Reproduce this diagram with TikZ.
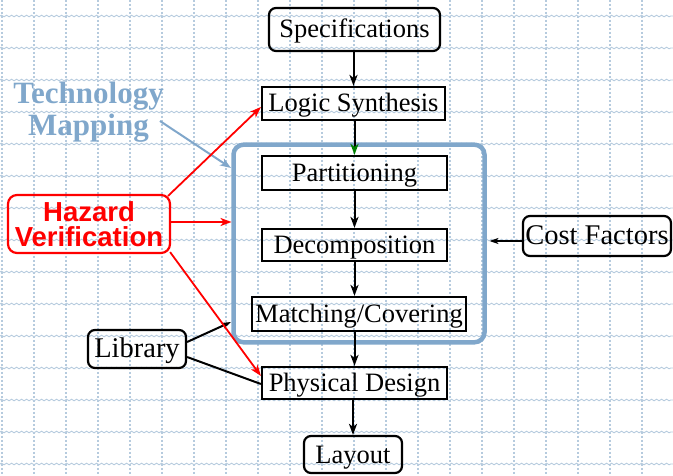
\documentclass[tikz,border=0pt]{standalone}
\usepackage{fontspec}
\setmainfont{Liberation Serif}
\newfontfamily\hzfont{Liberation Sans}
\usetikzlibrary{arrows.meta,decorations.pathmorphing}
\definecolor{gridblue}{RGB}{182,203,222}
\definecolor{tmblue}{RGB}{128,167,203}
\definecolor{hzred}{RGB}{255,0,0}
\definecolor{tipgreen}{RGB}{0,128,0}
\begin{document}
\begin{tikzpicture}[x=1pt,y=-1pt,
  gridv/.style={gridblue, line width=1.1pt, dash pattern=on 2.2pt off 1.8pt},
  gridh/.style={gridblue, line width=0.9pt, decorate,
    decoration={snake, segment length=5pt, amplitude=0.8pt}},
  flowbox/.style={draw, line width=2.2pt, inner sep=0pt, text height=20pt, text depth=3pt,
    font=\fontsize{26.5}{30}\selectfont},
  roundbox/.style={flowbox, rounded corners=7pt},
  sidebox/.style={roundbox, font=\fontsize{28.5}{32}\selectfont},
  hzbox/.style={draw=hzred, text=hzred, line width=2.2pt, rounded corners=9pt, inner sep=0pt,
    align=center, font=\hzfont\bfseries\fontsize{27.5}{25.5}\selectfont},
  tmframe/.style={draw=tmblue, line width=4.5pt, rounded corners=10pt, inner sep=0pt},
  tmtext/.style={text=tmblue, inner sep=0pt, align=center,
    font=\bfseries\fontsize{31}{32}\selectfont},
  tip/.style={-{Stealth[length=11pt,width=8pt,inset=3pt]}},
  smalltip/.style={-{Stealth[length=9pt,width=6pt,inset=2.5pt]}},
  flow/.style={tip, line width=2pt},
  hzline/.style={tip, hzred, line width=1.8pt},
]
\useasboundingbox (0,0) rectangle (673,476);

% background grid: dashed verticals, wavy horizontals
\foreach \i in {0,...,20}
  \draw[gridv] ({2+32*\i},0) -- ({2+32*\i},476);
\foreach \j in {0,...,14}
  \draw[gridh] (0,{16+32*\j}) -- (673,{16+32*\j});

% design flow
\node[roundbox, minimum width=171pt, minimum height=43pt] (spec)   at (354.5,29.5) {Specifications};
\node[flowbox,  minimum width=183pt, minimum height=33pt] (logic)  at (353.5,103.5) {Logic Synthesis};
\node[flowbox,  minimum width=185pt, minimum height=34pt] (part)   at (354.5,173) {Partitioning};
\node[flowbox,  minimum width=185pt, minimum height=32pt] (decomp) at (354.5,245) {Decomposition};
\node[flowbox,  minimum width=214pt, minimum height=34pt] (match)  at (359,314) {Matching/Covering};
\node[flowbox,  minimum width=185pt, minimum height=32pt] (phys)   at (354.5,383) {Physical Design};
\node[roundbox, minimum width=98pt,  minimum height=37pt] (layout) at (353,454.5) {Layout};

% technology mapping stage
\node[tmframe, minimum width=251pt, minimum height=197.6pt] (tm) at (359,243.5) {};
\node[tmtext] (tmap) at (88.5,112) {Technology\\Mapping};

% side inputs
\node[sidebox, minimum width=148pt, minimum height=40pt] (cost) at (597,236) {Cost Factors};
\node[sidebox, minimum width=98pt,  minimum height=38pt] (lib)  at (137,349) {Library};
\node[hzbox,   minimum width=162pt, minimum height=58pt] (hz)   at (89,224) {Hazard\\Verification};

% arrow ends on the technology mapping frame
\coordinate (hztip)   at (231.5,222);
\coordinate (libtip)  at (231,322);
\coordinate (tmtip)   at (231,168);
\coordinate (costtip) at (489.5,241);

% main flow arrows
\draw[flow] (logic.north |- spec.south) -- (logic.north);
\draw[line width=2pt, -{Stealth[length=11pt,width=8pt,inset=3pt,color=tipgreen]}]
  (part.north |- logic.south) -- (part.north);
\draw[flow] (decomp.north |- part.south) -- (decomp.north);
\draw[flow] (phys.north |- decomp.south) -- (match.north -| decomp.north);
\draw[flow] (phys.north |- match.south) -- (phys.north);
\draw[flow] (layout.north |- phys.south) -- (layout.north);

% side connectors
\draw[smalltip, line width=1.4pt] ([yshift=-5pt]cost.west) -- (costtip);
\draw[smalltip, line width=2pt] ([yshift=7pt]lib.east) -- (libtip);
\draw[line width=2pt] ([yshift=-8pt]lib.east) -- ([yshift=-1pt]phys.west);
\draw[tip, tmblue, line width=2pt] ([shift={(-4,9)}]tmap.east) -- (tmtip);

% hazard verification connectors
\draw[hzline] ([xshift=-3pt,yshift=-2pt]hz.north east) -- ([yshift=-3.5pt]logic.west);
\draw[hzline] ([yshift=2pt]hz.east) -- (hztip);
\draw[hzline] ([xshift=-1pt,yshift=2pt]hz.south east) -- ([yshift=7pt]phys.west);
\end{tikzpicture}
\end{document}
